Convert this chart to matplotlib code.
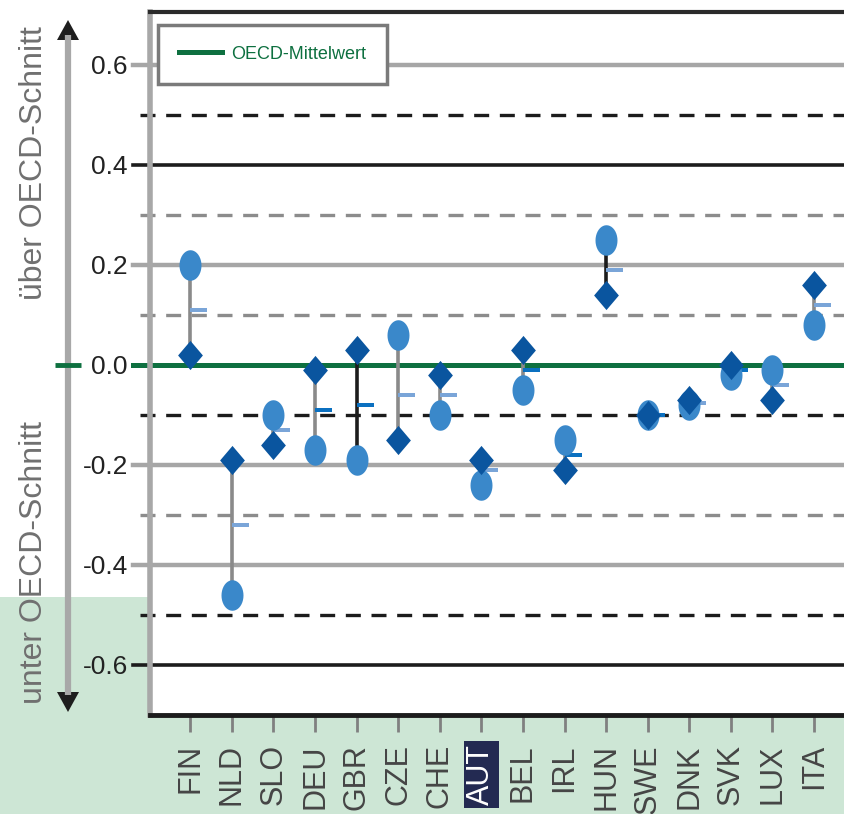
import matplotlib
matplotlib.use("Agg")
import matplotlib.pyplot as plt
from matplotlib.patches import Rectangle, Polygon
from matplotlib.path import Path
import numpy as np

# ---------------- data ----------------
countries = ["FIN", "NLD", "SLO", "DEU", "GBR", "CZE", "CHE", "AUT",
             "BEL", "IRL", "HUN", "SWE", "DNK", "SVK", "LUX", "ITA"]
diamond_vals = [0.02, -0.19, -0.16, -0.01, 0.03, -0.15, -0.02, -0.19,
                0.03, -0.21, 0.14, -0.10, -0.07, 0.00, -0.07, 0.16]
circle_vals = [0.20, -0.46, -0.10, -0.17, -0.19, 0.06, -0.10, -0.24,
               -0.05, -0.15, 0.25, -0.10, -0.08, -0.02, -0.01, 0.08]
mean_vals = [0.11, -0.32, -0.13, -0.09, -0.08, -0.06, -0.06, -0.21,
             -0.01, -0.18, 0.19, -0.10, -0.075, -0.01, -0.04, 0.12]
connector_dark = [False, False, False, False, True, False, False, False,
                  False, False, True, False, False, False, False, False]
mean_dark = [False, False, False, True, True, False, False, False,
             True, True, False, True, False, True, False, False]
tick_dark = [False, False, True, False, False, False, False, False,
             True, False, False, False, False, False, False, True]
highlight = "AUT"
yticks = [0.6, 0.4, 0.2, 0.0, -0.2, -0.4, -0.6]
ytick_labels = ["0.6", "0.4", "0.2", "0.0", "-0.2", "-0.4", "-0.6"]
legend_label = "OECD-Mittelwert"
upper_text = "über OECD-Schnitt"
lower_text = "unter OECD-Schnitt"

# ---------------- style ----------------
W, H = 845, 814
DPI = 100
GREEN = "#0e7040"
BGGREEN = "#cde6d5"
LIGHTBLUE = "#3a88ca"
DARKBLUE = "#0a559f"
FONT = ["Liberation Sans", "DejaVu Sans"]

fig = plt.figure(figsize=(W / DPI, H / DPI), dpi=DPI, facecolor="white")

# overlay axes for background decorations (pixel coordinates)
deco = fig.add_axes([0, 0, 1, 1], zorder=0)
deco.set_xlim(0, W)
deco.set_ylim(H, 0)
deco.axis("off")
deco.add_patch(Rectangle((0, 597), 150, H - 597, facecolor=BGGREEN, edgecolor="none"))
deco.add_patch(Rectangle((0, 715), W, H - 715, facecolor=BGGREEN, edgecolor="none"))
# vertical arrow
deco.plot([68, 68], [35, 695], color="#a8a8a8", lw=4.5, solid_capstyle="butt")
deco.add_patch(Polygon([[68, 20], [57, 40], [79, 40]], closed=True, facecolor="#1e1e1e", edgecolor="none"))
deco.add_patch(Polygon([[68, 712], [57, 692], [79, 692]], closed=True, facecolor="#1e1e1e", edgecolor="none"))
deco.plot([55, 81], [365, 365], color=GREEN, lw=3.5, solid_capstyle="butt")
deco.text(34, 163, upper_text, rotation=90, ha="center", va="center",
          fontsize=23, color="#707070", family=FONT)
deco.text(34, 563, lower_text, rotation=90, ha="center", va="center",
          fontsize=23, color="#707070", family=FONT)

# main axes
left = 150 / W
bottom = 1 - 715 / H
top = 1 - 12 / H
ax = fig.add_axes([left, bottom, 1.0 - left + 0.01, top - bottom], zorder=1)
ax.set_facecolor("white")

x = np.arange(len(countries))
ax.set_xlim(-0.97, 15.95)
ax.set_ylim(-0.70, 0.706)

# horizontal reference lines
ext_major = -17 / 700
ext_minor = -10 / 700
solid_gray = [0.6, 0.2, -0.2, -0.4]
solid_black = [0.4, -0.6]
dash_black = [0.5, -0.1, -0.5]
dash_gray = [0.3, 0.1, -0.3]
for yv in solid_gray:
    ax.axhline(yv, xmin=ext_major, xmax=1, color="#a6a6a6", lw=3.2, clip_on=False, zorder=1)
for yv in solid_black:
    ax.axhline(yv, xmin=ext_major, xmax=1, color="#1c1c1c", lw=2.6, clip_on=False, zorder=1)
for yv in dash_black:
    ax.axhline(yv, xmin=ext_minor, xmax=1, color="#1c1c1c", lw=2.4, ls=(0, (4.5, 3.2)), clip_on=False, zorder=1)
for yv in dash_gray:
    ax.axhline(yv, xmin=ext_minor, xmax=1, color="#8c8c8c", lw=2.4, ls=(0, (4.5, 3.2)), clip_on=False, zorder=1)
ax.axhline(0.0, xmin=ext_major, xmax=1, color=GREEN, lw=3.6, clip_on=False, zorder=2,
           label=legend_label)

# connectors
for xi, a, b, dk in zip(x, diamond_vals, circle_vals, connector_dark):
    ax.plot([xi, xi], [a, b], color="#1c1c1c" if dk else "#8a8a8a", lw=2.6, zorder=3)

# markers
ellipse = Path(np.column_stack([0.72 * np.cos(np.linspace(0, 2 * np.pi, 41)),
                                np.sin(np.linspace(0, 2 * np.pi, 41))]))
diamond = Path([(0, 1), (0.85, 0), (0, -1), (-0.85, 0), (0, 1)], closed=True)
dash = Path([(0, -0.14), (1, -0.14), (1, 0.14), (0, 0.14), (0, -0.14)], closed=True)

mean_colors = ["#0b70c0" if d else "#7aa5d8" for d in mean_dark]
for xi, m, c in zip(x, mean_vals, mean_colors):
    ax.plot([xi], [m], marker=dash, markersize=25, color=c, markeredgewidth=0, ls="none", zorder=4)
ax.plot(x, circle_vals, marker=ellipse, markersize=22, color=LIGHTBLUE,
        markeredgewidth=0, ls="none", zorder=5)
ax.plot(x, diamond_vals, marker=diamond, markersize=21, color=DARKBLUE,
        markeredgewidth=0, ls="none", zorder=6)

# spines
ax.spines["right"].set_visible(False)
ax.spines["left"].set_color("#a8a8a8")
ax.spines["left"].set_linewidth(4)
ax.spines["bottom"].set_color("#1c1c1c")
ax.spines["bottom"].set_linewidth(3.5)
ax.spines["top"].set_color("#2a2a2a")
ax.spines["top"].set_linewidth(3)

# y ticks
ax.set_yticks(yticks)
ax.set_yticklabels(ytick_labels, family=FONT, fontsize=19, color="#222222")
ax.tick_params(axis="y", length=0, pad=16)

# x ticks
ax.set_xticks(x)
ax.set_xticklabels(countries, rotation=90, family=FONT, fontsize=22, color="#454545",
                   va="top", ha="center")
ax.tick_params(axis="x", length=12, width=2, color="#808080", pad=9)
for t, dk in zip(ax.xaxis.get_major_ticks(), tick_dark):
    t.tick1line.set_color("#1c1c1c" if dk else "#8a8a8a")
for lab in ax.get_xticklabels():
    if lab.get_text() == highlight:
        lab.set_color("white")
        lab.set_bbox(dict(facecolor="#232a52", edgecolor="none", pad=2))

# legend
leg = ax.legend(loc="upper left", bbox_to_anchor=(8 / 700, 1 - 13 / 703),
                prop={"family": FONT, "size": 13}, frameon=True, fancybox=False,
                handlelength=2.4, borderpad=1.15, handletextpad=0.5,
                borderaxespad=0)
leg.get_frame().set_edgecolor("#7a7a7a")
leg.get_frame().set_linewidth(2.5)
leg.get_frame().set_alpha(1)
for txt in leg.get_texts():
    txt.set_color(GREEN)
leg.set_zorder(10)

fig.savefig("out.png", dpi=DPI)
